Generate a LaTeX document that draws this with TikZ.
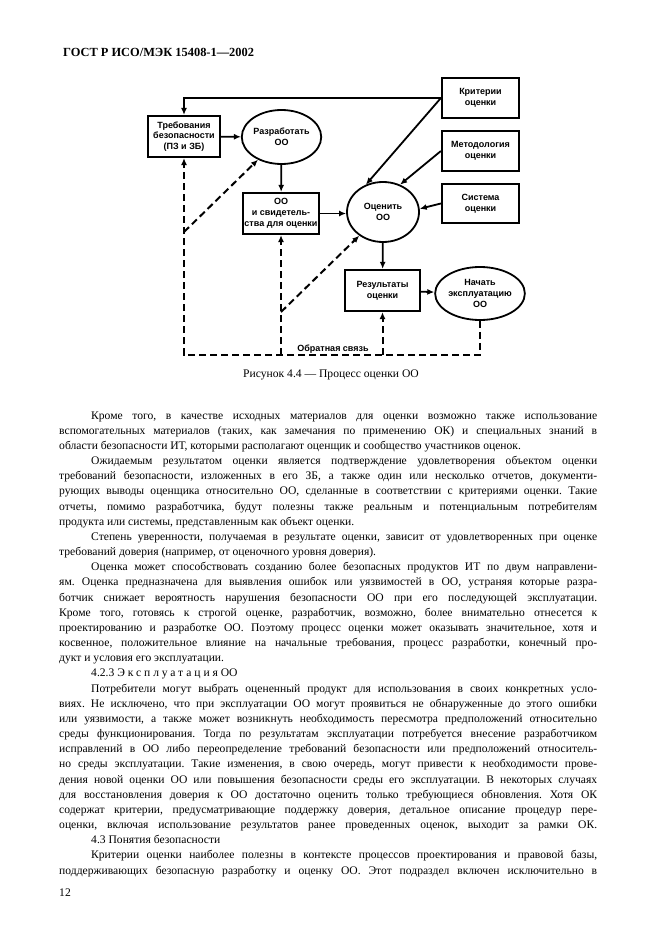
\documentclass[tikz,border=0pt]{standalone}
\usepackage{fontspec}
\setmainfont{Liberation Serif}
\setsansfont{Liberation Sans}
\usepackage{tikz}
\usetikzlibrary{arrows.meta,positioning,shapes.geometric}
\frenchspacing
\newcommand{\dgfont}{\sffamily\bfseries\fontsize{9}{10.8}\selectfont}
\tikzset{
  blk/.style={draw, line width=2.2pt, align=center, inner sep=0pt, font=\dgfont,
    minimum width=76pt, minimum height=40pt},
  act/.style={draw, ellipse, line width=1.8pt, align=center, inner sep=0pt, font=\dgfont},
  flow/.style={line width=1.8pt, -{Latex[length=7pt,width=6pt]}},
  fb/.style={line width=2pt, dash pattern=on 7pt off 4pt},
  fbflow/.style={fb, -{Latex[length=7pt,width=6pt]}},
  txt/.style={inner sep=0pt, anchor=base west, font=\fontsize{11.6}{13}\selectfont}
}
% text lines: name, line number, text
\newcommand{\jline}[3]{\node[txt] (#1) at (59,{419+(#2-1)*15.17}) {\makebox[538pt][s]{#3}};}
\newcommand{\iline}[3]{\node[txt] (#1) at (91,{419+(#2-1)*15.17}) {\makebox[506pt][s]{#3}};}
\newcommand{\eline}[3]{\node[txt] (#1) at (59,{419+(#2-1)*15.17}) {#3};}
\newcommand{\ieline}[3]{\node[txt] (#1) at (91,{419+(#2-1)*15.17}) {#3};}
\begin{document}
\begin{tikzpicture}[x=1pt,y=-1pt]
  \useasboundingbox[fill=white] (0,0) rectangle (661,936);
  \node[txt, font=\bfseries\fontsize{12.4}{14}\selectfont] (hdr) at (63,56.5) {ГОСТ Р ИСО/МЭК 15408-1—2002};

  % figure 4.4
  \node[blk, minimum width=72pt, minimum height=41pt] (req) at (184,136.5) {Требования\\безопасности\\(ПЗ и ЗБ)};
  \node[act, minimum width=71pt, minimum height=54pt] (dev) at (281.5,137) {Разработать\\ОО};
  \node[blk, minimum height=41pt] (toe) at (281,213.5) {ОО\\и свидетель-\\ства для оценки};
  \node[blk, minimum width=77pt] (crit) at (480.5,98) {Критерии\\оценки};
  \node[blk, minimum width=77pt] (meth) at (480.5,151) {Методология\\оценки};
  \node[blk, minimum width=77pt, minimum height=39pt] (sys) at (480.5,203.5) {Система\\оценки};
  \node[act, minimum width=72pt, minimum height=60pt] (eval) at (383,212) {Оценить\\ОО};
  \node[blk, minimum width=75pt, minimum height=41pt] (res) at (382.5,290.5) {Результаты\\оценки};
  \node[act, minimum width=70pt, minimum height=53pt] (op) at (480,293.5) {Начать\\эксплуатацию\\ОО};

  \draw[flow] (crit.west) -| (req.north);
  \draw[flow] (crit.west) -- (eval.122);
  \draw[flow] (meth.west) -- (eval.58);
  \draw[flow] (sys.west) -- (eval.5);
  \draw[flow] (req) -- (dev);
  \draw[flow] (dev) -- (toe);
  \draw[flow] (toe.east) -- (toe.east -| eval.west);
  \draw[flow] (eval) -- (res);
  \draw[flow] (res) -- (op);

  % feedback
  \coordinate (fbc) at (184,355);
  \coordinate (d1) at (184,232);
  \coordinate (d2) at (281,312);
  \draw[fbflow] (op.south) |- (fbc) -- (req.south);
  \draw[fbflow] (toe.south |- fbc) -- (toe.south);
  \draw[fbflow] (res.south |- fbc) -- (res.south);
  \draw[fbflow] (d1) -- (dev.224);
  \draw[fbflow] (d2) -- (eval.225);
  \node[font=\dgfont, anchor=base, inner sep=0pt] (fbl) at (333,351.5) {Обратная связь};

  \node[txt, anchor=base] (cap) at (331,377.7) {Рисунок 4.4 — Процесс оценки ОО};

  % body text
  \iline{t1}{1}{Кроме того, в качестве исходных материалов для оценки возможно также использование}
  \jline{t2}{2}{вспомогательных материалов (таких, как замечания по применению ОК) и специальных знаний в}
  \eline{t3}{3}{области безопасности ИТ, которыми располагают оценщик и сообщество участников оценок.}
  \iline{t4}{4}{Ожидаемым результатом оценки является подтверждение удовлетворения объектом оценки}
  \jline{t5}{5}{требований безопасности, изложенных в его ЗБ, а также один или несколько отчетов, документи-}
  \jline{t6}{6}{рующих выводы оценщика относительно ОО, сделанные в соответствии с критериями оценки. Такие}
  \jline{t7}{7}{отчеты, помимо разработчика, будут полезны также реальным и потенциальным потребителям}
  \eline{t8}{8}{продукта или системы, представленным как объект оценки.}
  \iline{t9}{9}{Степень уверенности, получаемая в результате оценки, зависит от удовлетворенных при оценке}
  \eline{t10}{10}{требований доверия (например, от оценочного уровня доверия).}
  \iline{t11}{11}{Оценка может способствовать созданию более безопасных продуктов ИТ по двум направлени-}
  \jline{t12}{12}{ям. Оценка предназначена для выявления ошибок или уязвимостей в ОО, устраняя которые разра-}
  \jline{t13}{13}{ботчик снижает вероятность нарушения безопасности ОО при его последующей эксплуатации.}
  \jline{t14}{14}{Кроме того, готовясь к строгой оценке, разработчик, возможно, более внимательно отнесется к}
  \jline{t15}{15}{проектированию и разработке ОО. Поэтому процесс оценки может оказывать значительное, хотя и}
  \jline{t16}{16}{косвенное, положительное влияние на начальные требования, процесс разработки, конечный про-}
  \eline{t17}{17}{дукт и условия его эксплуатации.}
  \ieline{t18}{18}{4.2.3 {\addfontfeature{LetterSpace=25}Эксплуатация} ОО}
  \iline{t19}{19}{Потребители могут выбрать оцененный продукт для использования в своих конкретных усло-}
  \jline{t20}{20}{виях. Не исключено, что при эксплуатации ОО могут проявиться не обнаруженные до этого ошибки}
  \jline{t21}{21}{или уязвимости, а также может возникнуть необходимость пересмотра предположений относительно}
  \jline{t22}{22}{среды функционирования. Тогда по результатам эксплуатации потребуется внесение разработчиком}
  \jline{t23}{23}{исправлений в ОО либо переопределение требований безопасности или предположений относитель-}
  \jline{t24}{24}{но среды эксплуатации. Такие изменения, в свою очередь, могут привести к необходимости прове-}
  \jline{t25}{25}{дения новой оценки ОО или повышения безопасности среды его эксплуатации. В некоторых случаях}
  \jline{t26}{26}{для восстановления доверия к ОО достаточно оценить только требующиеся обновления. Хотя ОК}
  \jline{t27}{27}{содержат критерии, предусматривающие поддержку доверия, детальное описание процедур пере-}
  \jline{t28}{28}{оценки, включая использование результатов ранее проведенных оценок, выходит за рамки ОК.}
  \ieline{t29}{29}{4.3 Понятия безопасности}
  \iline{t30}{30}{Критерии оценки наиболее полезны в контексте процессов проектирования и правовой базы,}
  \jline{t31}{31}{поддерживающих безопасную разработку и оценку ОО. Этот подраздел включен исключительно в}
  \node[txt] (pg) at (59,896) {12};
\end{tikzpicture}
\end{document}
